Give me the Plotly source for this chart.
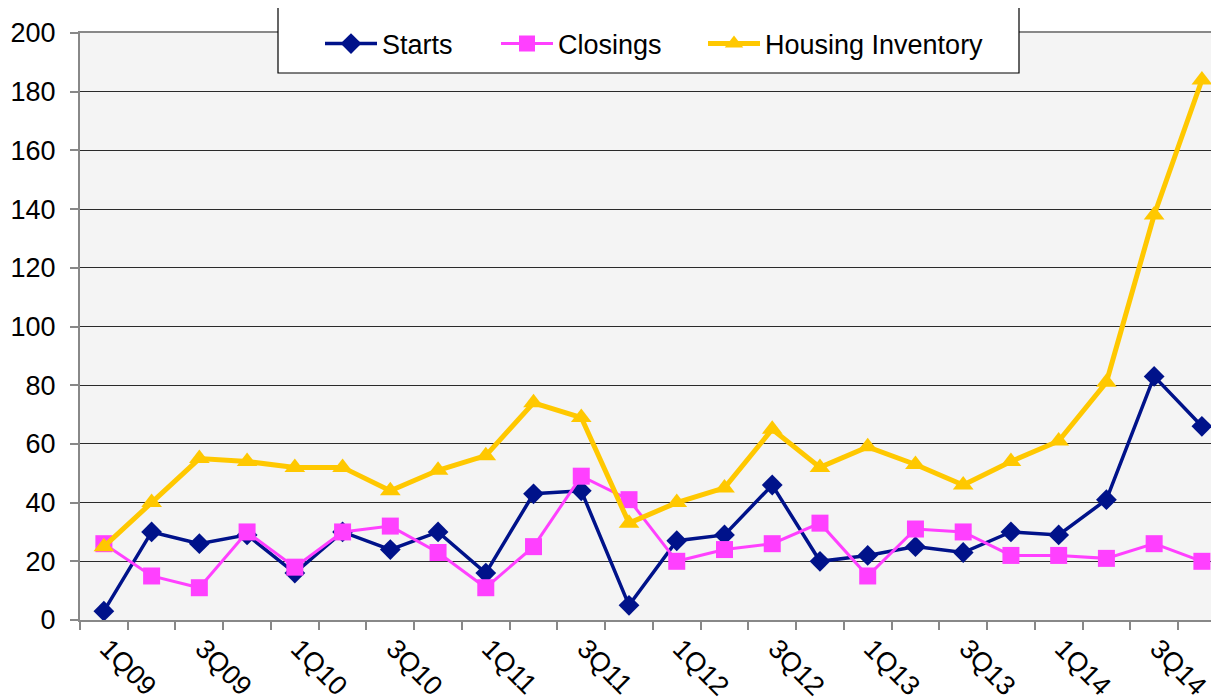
import plotly.graph_objects as go

quarters = [f"{q}Q{y:02d}" for y in range(9, 15) for q in range(1, 5)]
starts = [3, 30, 26, 29, 16, 30, 24, 30, 16, 43, 44, 5, 27, 29, 46, 20, 22, 25, 23, 30, 29, 41, 83, 66]
closings = [26, 15, 11, 30, 18, 30, 32, 23, 11, 25, 49, 41, 20, 24, 26, 33, 15, 31, 30, 22, 22, 21, 26, 20]
inventory = [25, 40, 55, 54, 52, 52, 44, 51, 56, 74, 69, 33, 40, 45, 65, 52, 59, 53, 46, 54, 61, 81, 138, 184]
y_ticks = list(range(0, 201, 20))

x = list(range(len(quarters)))
font = "Liberation Sans, Arial, sans-serif"
FS = 27

fig = go.Figure()
fig.add_trace(go.Scatter(x=x, y=starts, name="Starts", mode="lines+markers", legend="legend",
                         line=dict(color="#00128a", width=3.5),
                         marker=dict(symbol="diamond", size=16, color="#00128a")))
fig.add_trace(go.Scatter(x=x, y=closings, name="Closings", mode="lines+markers", legend="legend2",
                         line=dict(color="#ff40ff", width=3),
                         marker=dict(symbol="square", size=17, color="#ff40ff")))
fig.add_trace(go.Scatter(x=x, y=inventory, name="Housing Inventory", mode="lines+markers", legend="legend3",
                         line=dict(color="#ffc800", width=5),
                         marker=dict(symbol="triangle-up", size=18, color="#ffc800")))

# page body has an 8px margin: figure placed at (8, 8) on screen
W, H = 1139, 587
def leg(px):
    return dict(x=(px - 80) / W, y=(620 - 44) / H, xanchor="left", yanchor="middle",
                orientation="h", bgcolor="rgba(0,0,0,0)", borderwidth=0,
                font=dict(family=font, size=FS, color="black"), itemwidth=52)

# the chart's plot area runs slightly past the right edge of the picture
x_max = -0.5 + W / 47.74

fig.update_layout(
    width=1211, height=692,
    margin=dict(l=72, r=0, t=25, b=80),
    paper_bgcolor="white", plot_bgcolor="#f4f4f4",
    font=dict(family=font, size=FS, color="black"),
    showlegend=True,
    legend=leg(320), legend2=leg(496), legend3=leg(703),
    shapes=[dict(type="rect", xref="paper", yref="paper",
                 x0=(278 - 80) / W, x1=(1019 - 80) / W,
                 y0=(620 - 73) / H, y1=(620 - 7) / H,
                 line=dict(color="black", width=1.2), fillcolor="white", layer="above")],
    xaxis=dict(range=[-0.5, x_max], automargin=False,
               tickmode="array", tickvals=x[::2], ticktext=quarters[::2],
               tickangle=45, ticks="", showgrid=False, zeroline=False,
               ticklabelshift=4,
               showline=True, linecolor="#888888", linewidth=2, mirror=True,
               tickfont=dict(family=font, size=FS, color="black"),
               minor=dict(tickmode="array", tickvals=[i - 0.5 for i in range(len(quarters) + 1)],
                          ticks="outside", ticklen=8, tickcolor="#888888", tickwidth=1.5,
                          showgrid=False)),
    yaxis=dict(range=[0, 200], tickmode="array", tickvals=y_ticks, automargin=False,
               ticks="outside", ticklen=8, tickcolor="#888888", tickwidth=1.5,
               ticklabelstandoff=9,
               showgrid=True, gridcolor="#2a2a2a", gridwidth=1, zeroline=False,
               showline=True, linecolor="#888888", linewidth=2,
               tickfont=dict(family=font, size=FS, color="black")),
)

fig.write_html("out.html")
